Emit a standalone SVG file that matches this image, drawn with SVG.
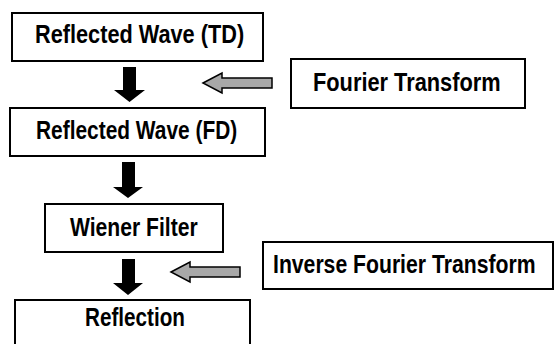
<svg xmlns="http://www.w3.org/2000/svg" width="556" height="344" viewBox="0 0 556 344">
<style>
.box{fill:#fff;stroke:#000;stroke-width:2}
.lbl{font-family:"Liberation Sans",Arial,sans-serif;font-weight:bold;font-size:25px;fill:#000}
.blk{fill:#000}
.gry{fill:#a8a8a8;stroke:#000;stroke-width:1.5;stroke-linejoin:miter}
</style>
<rect width="556" height="344" fill="#fff"/>
<g id="connectors">
<path class="blk" d="M123,67 H136 V90 H145 L129.5,102 L114,90 H123 Z"/>
<path class="blk" d="M122,162 H135 V187 H143 L128,198 L113,187 H122 Z"/>
<path class="blk" d="M122,259 H135 V283 H143 L128,295 L113,283 H122 Z"/>
<path class="gry" d="M203,83 L222,73 V78 H272 V88 H222 V93 Z"/>
<path class="gry" d="M171,272 L190,262 V267 H240 V277 H190 V282 Z"/>
</g>
<g id="node-td">
<rect class="box" x="12" y="13" width="251" height="48"/>
<text class="lbl" transform="translate(35,43) scale(0.869,1)">Reflected Wave (TD)</text>
</g>
<g id="node-fd">
<rect class="box" x="10" y="108" width="255" height="48"/>
<text class="lbl" transform="translate(36,139) scale(0.836,1)">Reflected Wave (FD)</text>
</g>
<g id="node-wiener">
<rect class="box" x="45" y="204" width="178" height="48"/>
<text class="lbl" transform="translate(70,236) scale(0.845,1)">Wiener Filter</text>
</g>
<g id="node-reflection">
<rect class="box" x="15" y="300" width="235" height="52"/>
<text class="lbl" transform="translate(85,326) scale(0.827,1)">Reflection</text>
</g>
<g id="node-ft">
<rect class="box" x="291" y="59" width="234" height="49"/>
<text class="lbl" transform="translate(313,91) scale(0.872,1)">Fourier Transform</text>
</g>
<g id="node-ift">
<rect class="box" x="263" y="242" width="290" height="47"/>
<text class="lbl" transform="translate(273,273) scale(0.848,1)">Inverse Fourier Transform</text>
</g>
</svg>
